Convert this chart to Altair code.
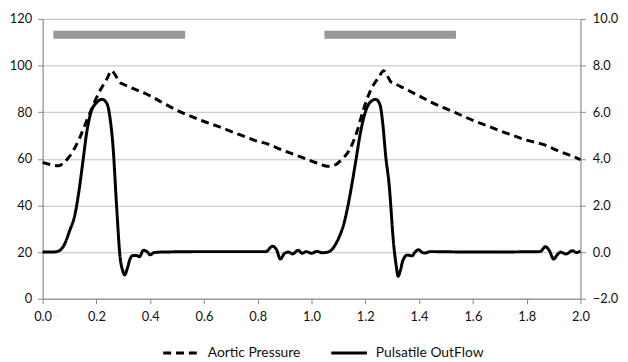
import altair as alt
import pandas as pd

# Aortic Pressure (left axis)
p_x = [0.00, 0.03, 0.06, 0.08, 0.10, 0.13, 0.17, 0.21, 0.24, 0.256, 0.27, 0.285, 0.30, 0.33,
       0.40, 0.45, 0.50, 0.55, 0.60, 0.65, 0.70, 0.75, 0.80, 0.83, 0.85, 0.88, 0.92, 0.96,
       1.00, 1.03, 1.06, 1.09, 1.11, 1.14, 1.17, 1.19, 1.22, 1.25, 1.268, 1.28, 1.295, 1.31,
       1.34, 1.40, 1.45, 1.50, 1.55, 1.60, 1.65, 1.70, 1.75, 1.80, 1.84, 1.86, 1.88, 1.90,
       1.95, 2.00]
p_y = [58.5, 57.5, 57.0, 58.5, 61.0, 67.0, 78.0, 88.5, 94.5, 97.8, 96.0, 93.0, 92.0, 90.5,
       87.0, 83.8, 80.8, 78.3, 76.0, 74.0, 71.8, 69.6, 67.5, 66.6, 65.8, 64.3, 62.5, 60.8,
       59.0, 57.8, 56.8, 57.5, 59.5, 63.6, 72.0, 80.0, 89.5, 95.0, 97.8, 96.0, 93.0, 92.2,
       90.5, 87.0, 84.0, 81.5, 79.0, 76.5, 74.3, 72.0, 70.0, 68.0, 66.8, 66.2, 65.4, 64.3,
       62.0, 59.7]

# Pulsatile OutFlow (right axis)
f_x = [0.00, 0.04, 0.06, 0.08, 0.10, 0.12, 0.135, 0.15, 0.165, 0.18, 0.20, 0.222, 0.24, 0.25,
       0.262, 0.275, 0.288, 0.298, 0.305, 0.315, 0.325, 0.335, 0.35, 0.36, 0.375, 0.39, 0.40,
       0.415, 0.44, 0.60, 0.83, 0.855, 0.87, 0.884, 0.90, 0.914, 0.93, 0.95, 0.965, 0.98,
       1.00, 1.02, 1.04, 1.06, 1.075, 1.09, 1.104, 1.12, 1.135, 1.15, 1.165, 1.18, 1.20, 1.22,
       1.239, 1.255, 1.265, 1.276, 1.288, 1.306, 1.315, 1.322, 1.33, 1.34, 1.356, 1.374, 1.385,
       1.398, 1.41, 1.423, 1.44, 1.60, 1.85, 1.87, 1.885, 1.90, 1.915, 1.925, 1.947, 1.97,
       1.985, 2.00]
f_y = [0.0, 0.0, 0.05, 0.3, 0.9, 1.6, 2.6, 3.9, 5.2, 6.0, 6.4, 6.55, 6.35, 5.8,
       4.5, 2.0, -0.2, -0.8, -0.98, -0.7, -0.3, -0.15, -0.15, -0.2, 0.08, 0.0, -0.12,
       -0.02, 0.0, 0.02, 0.02, 0.25, 0.1, -0.3, -0.05, 0.0, -0.08, 0.08, -0.05, 0.02,
       -0.05, 0.03, -0.03, 0.0, 0.1, 0.35, 0.68, 1.2, 1.96, 2.9, 3.94, 5.0, 6.0, 6.45,
       6.55, 6.3, 5.5, 4.1, 2.96, 0.26, -0.6, -1.04, -0.8, -0.35, -0.13, -0.16, 0.0,
       0.1, 0.0, -0.04, 0.02, 0.0, 0.02, 0.23, 0.05, -0.3, -0.1, 0.0, -0.08, 0.06,
       -0.02, 0.05]

# Gray bars (left-axis level)
bar_start = [0.04, 1.048]
bar_end = [0.53, 1.537]
bar_level = [113.2, 113.2]

series = ["Aortic Pressure", "Pulsatile OutFlow"]

pdf = pd.DataFrame({"x": p_x, "y": p_y, "series": series[0]})
fdf = pd.DataFrame({"x": f_x, "y": f_y, "series": series[1]})
bdf = pd.DataFrame({"x": bar_start, "x2": bar_end, "y": bar_level})

FONT = "Lato"
AX = "#868686"

xenc = alt.X("x:Q", scale=alt.Scale(domain=[0, 2], nice=False),
             axis=alt.Axis(values=[i / 5 for i in range(11)], format=".1f", title=None,
                           grid=False, domainColor=AX, tickColor=AX, tickSize=5,
                           labelFlush=False, labelPadding=7, labelFontSize=13,
                           labelFont=FONT, labelColor="#111"))

dash_scale = alt.Scale(domain=series, range=[[8, 5], [1, 0]])
legend = alt.Legend(title=None, orient="none", direction="horizontal", legendX=120, legendY=318,
                    symbolType="stroke", symbolSize=1300, symbolStrokeWidth=3,
                    symbolStrokeColor="black", labelFontSize=14, labelFont=FONT,
                    labelColor="#111", columnPadding=24, labelOffset=7)

left = alt.Chart(pdf).mark_line(color="black", strokeWidth=3, interpolate="monotone").encode(
    x=xenc,
    y=alt.Y("y:Q", scale=alt.Scale(domain=[0, 120], nice=False),
            axis=alt.Axis(values=list(range(0, 121, 20)), title=None, gridColor="#C0C0C0",
                          domainColor=AX, tickColor=AX, tickSize=5, labelPadding=6,
                          labelFontSize=13, labelFont=FONT, labelColor="#111")),
    strokeDash=alt.StrokeDash("series:N", scale=dash_scale, legend=legend),
)

bars = alt.Chart(bdf).mark_rule(color="#989898", strokeWidth=8).encode(
    x="x:Q", x2="x2:Q", y="y:Q"
)

right = alt.Chart(fdf).mark_line(color="black", strokeWidth=3, interpolate="monotone").encode(
    x=xenc,
    y=alt.Y("y:Q", scale=alt.Scale(domain=[-2, 10], nice=False),
            axis=alt.Axis(orient="right", values=[-2, 0, 2, 4, 6, 8, 10], format=".1f",
                          title=None, grid=False, domainColor=AX, tickColor=AX, tickSize=5,
                          labelPadding=7, labelFontSize=13, labelFont=FONT, labelColor="#111")),
    strokeDash=alt.StrokeDash("series:N", scale=dash_scale, legend=legend),
)

chart = alt.layer(alt.layer(bars, left), right).resolve_scale(y="independent").properties(
    width=544, height=283,
    autosize=alt.AutoSizeParams(type="none"),
    padding={"left": 35, "top": 9, "right": 40, "bottom": 64},
).configure_view(stroke=None).configure(background="white")

chart.save("out.html", embed_options={"renderer": "svg", "actions": False})
